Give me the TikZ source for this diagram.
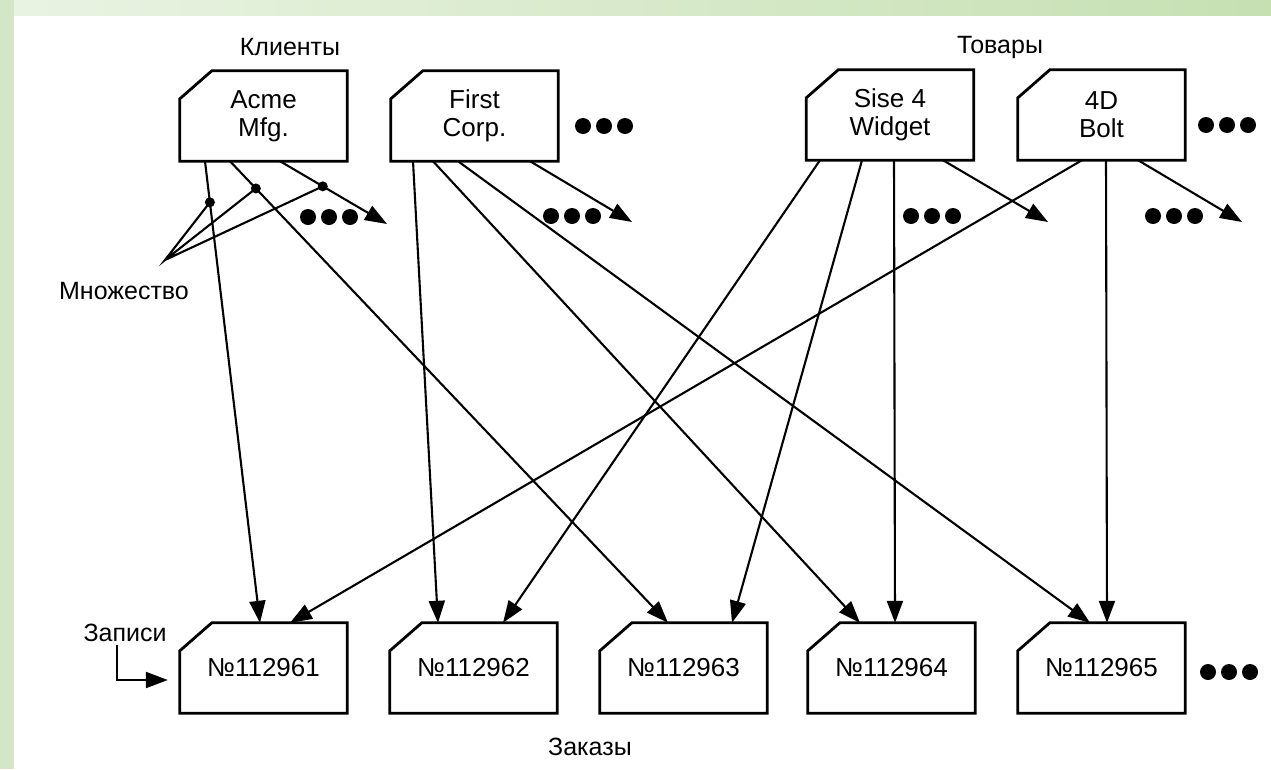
\documentclass[tikz,border=0pt]{standalone}
\usepackage{fontspec}
\setmainfont{Liberation Sans}
\usetikzlibrary{arrows.meta,calc,positioning}
\definecolor{StripGreen}{HTML}{D3E7C6}
\definecolor{StripGreenDark}{HTML}{C6E0B2}

\tikzset{
  rec/.style={minimum width=167pt,minimum height=90pt,inner sep=0pt,
              align=center,font=\fontsize{26}{28}\selectfont},
  recline/.style={line width=2.8pt,line join=miter},
  link/.style={line width=2.1pt,-{Triangle[length=22pt,width=16pt]}},
  plain/.style={line width=2.1pt},
  lbl/.style={font=\fontsize{25}{28}\selectfont},
}
% record card with the cut corner
\newcommand{\recframe}[1]{\draw[recline] (#1.south west)
  -- ($(#1.north west)+(0,-28pt)$) -- ($(#1.north west)+(32pt,0)$)
  -- (#1.north east) -- (#1.south east) -- cycle;}
% three big dots
\newcommand{\dotrow}[2]{\foreach \dx in {0,21,42}{\fill ({#1+\dx},#2) circle[radius=8pt];}}

\begin{document}
\begin{tikzpicture}[x=1pt,y=-1pt]
  \useasboundingbox (0,0) rectangle (1271,769);
  % page edge
  \fill[StripGreen] (0,0) rectangle (14,769);
  \shade[left color=StripGreen!50,right color=StripGreenDark] (14,0) rectangle (1271,15);
  % clients and goods
  \node[lbl] (clients) at (290,47) {Клиенты};
  \node[lbl] (goods) at (1000,47) {Товары};
  \node[rec] (acme) at (263.5,116) {Acme\\Mfg.};
  \node[rec] (first) at (474.5,116) {First\\Corp.};
  \node[rec] (widget) at (890,115) {Sise 4\\Widget};
  \node[rec] (bolt) at (1101.5,115) {4D\\Bolt};
  % orders
  \node[rec] (o1) at (263.5,668) {№112961};
  \node[rec] (o2) at (473.5,668) {№112962};
  \node[rec] (o3) at (683.5,668) {№112963};
  \node[rec] (o4) at (891.5,668) {№112964};
  \node[rec] (o5) at (1101.5,668) {№112965};
  \node[lbl] (orders) at (590,747) {Заказы};
  \node[lbl] (records) at (125,633) {Записи};
  \node[lbl] (mnozh) at (124,291) {Множество};
  \foreach \n in {acme,first,widget,bolt,o1,o2,o3,o4,o5} \recframe{\n}
  % free ends
  \coordinate (acmeMore) at (387,224);
  \coordinate (firstMore) at (632,222);
  \coordinate (widgetMore) at (1048,222);
  \coordinate (boltMore) at (1242,222);
  \coordinate (mnozTip) at (165,260);
  % links from clients
  \draw[link] (205,0 |- acme.south) -- coordinate[pos=0.089] (m1) (260,0 |- o1.north);
  \draw[link] (230,0 |- acme.south) -- coordinate[pos=0.059] (m2) (668,0 |- o3.north);
  \draw[link] (280,0 |- acme.south) -- coordinate[pos=0.4] (m3) (acmeMore);
  \draw[link] (413,0 |- first.south) -- (438,0 |- o2.north);
  \draw[link] (433,0 |- first.south) -- (860,0 |- o4.north);
  \draw[link] (458,0 |- first.south) -- (1090,0 |- o5.north);
  \draw[link] (530,0 |- first.south) -- (firstMore);
  % links from goods
  \draw[link] (820,0 |- widget.south) -- (503,0 |- o2.north);
  \draw[link] (862,0 |- widget.south) -- (732,0 |- o3.north);
  \draw[link] (894,0 |- widget.south) -- (895,0 |- o4.north);
  \draw[link] (943,0 |- widget.south) -- (widgetMore);
  \draw[link] (1082,0 |- bolt.south) -- (290,0 |- o1.north);
  \draw[link] (1106,0 |- bolt.south) -- (1107,0 |- o5.north);
  \draw[link] (1138,0 |- bolt.south) -- (boltMore);
  % set marks
  \draw[plain] (m1) -- (mnozTip) -- (m2) (mnozTip) -- (m3);
  \foreach \m in {m1,m2,m3} \fill (\m) circle[radius=5pt];
  % records arrow
  \draw[link] (117,0 |- records.south) |- ($(o1.west)+(-12pt,-12pt)$);
  % more
  \dotrow{583}{126} \dotrow{1206}{125}
  \dotrow{308}{217} \dotrow{551}{216} \dotrow{911}{216} \dotrow{1153}{216}
  \dotrow{1208}{672}
\end{tikzpicture}
\end{document}
